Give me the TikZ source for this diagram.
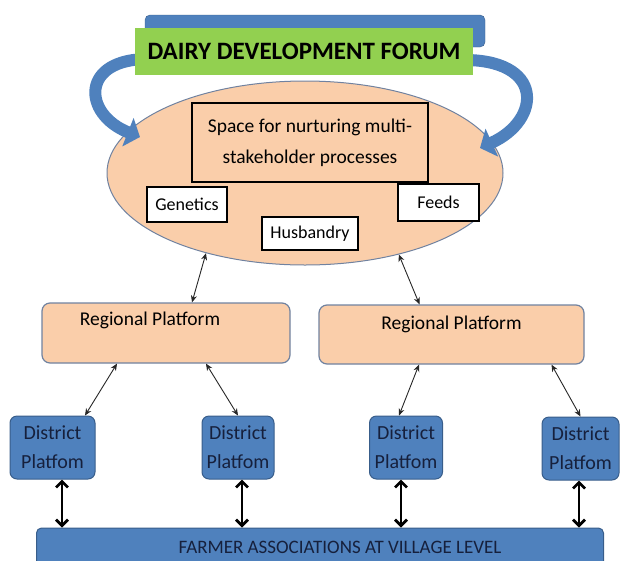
\documentclass[tikz,border=0pt]{standalone}
\usepackage{fontspec}
\setmainfont{Carlito}
\usetikzlibrary{shapes.geometric,arrows.meta}
\definecolor{plainBlue}{RGB}{79,129,189}
\definecolor{edgeBlue}{RGB}{56,93,138}
\definecolor{forumGreen}{RGB}{146,208,80}
\definecolor{peach}{RGB}{250,206,170}
\definecolor{greyEdge}{RGB}{112,130,160}
\definecolor{darkText}{RGB}{22,32,60}
\tikzset{%
  >={Stealth[length=7pt,width=6pt]},
  % Specifications for style of nodes:
          base/.style = {rectangle, draw=black, inner sep=1pt, align=center,
                         font=\fontsize{18}{22}\selectfont},
      forumBar/.style = {base, draw=none, fill=forumGreen,
                         minimum width=338pt, minimum height=47pt,
                         font=\bfseries\fontsize{25}{30}\selectfont},
        topBar/.style = {base, fill=plainBlue, draw=edgeBlue,
                         rounded corners=5pt},
  spaceEllipse/.style = {ellipse, draw=greyEdge, line width=1pt, fill=peach,
                         minimum width=396pt, minimum height=184pt, inner sep=0pt},
    nurtureBox/.style = {base, fill=peach, line width=1.2pt,
                         minimum width=236pt, minimum height=79pt,
                         font=\fontsize{19.5}{31}\selectfont},
      themeBox/.style = {base, fill=white, line width=2.2pt},
   regionalBox/.style = {base, fill=peach, draw=greyEdge, line width=1.2pt,
                         rounded corners=8pt, inner ysep=8pt,
                         font=\fontsize{19.5}{24}\selectfont},
   districtBox/.style = {base, fill=plainBlue, draw=edgeBlue, line width=1pt,
                         rounded corners=7pt, minimum height=63pt,
                         text=darkText, font=\fontsize{20}{29}\selectfont},
     villageBar/.style = {base, fill=plainBlue, draw=edgeBlue, line width=1pt,
                         rounded corners=5pt, minimum width=567pt, minimum height=38pt,
                         text=darkText, font=\fontsize{19}{24}\selectfont},
      thinLink/.style = {<->, line width=0.9pt, draw=black!85},
     thickLink/.style = {{Straight Barb[length=6pt,width=12pt]}-{Straight Barb[length=6pt,width=12pt]},
                         line width=2.8pt},
   curvedArrow/.style = {line width=12pt, draw=plainBlue,
                         -{Triangle[length=13pt,width=30pt]}},
}

\begin{document}
\begin{tikzpicture}[x=1pt,y=-1pt]
  \clip (0,0) rectangle (623,560);
  % Specification of nodes (position, etc.)

\node (space) at (305,173) [spaceEllipse] {};
\node (nurture) at (310,142.5) [nurtureBox] {Space for nurturing multi-\\stakeholder processes};
\node (genetics) at (187,204.5) [themeBox, minimum width=80pt, minimum height=35pt] {Genetics};
\node (feeds) at (438.5,202.5) [themeBox, minimum width=81pt, minimum height=37pt] {Feeds};
\node (husbandry) at (310,233.5) [themeBox, minimum width=96pt, minimum height=33pt] {Husbandry};

\node (topBar) at (315,31) [topBar, minimum width=340pt, minimum height=32pt] {};
\draw[curvedArrow] (150,59) .. controls (80,58) and (82,114) .. (140,137);
\draw[curvedArrow] (460,60) .. controls (545,58) and (542,120) .. (480,148);
\node (forum) at (304,51.5) [forumBar] {DAIRY DEVELOPMENT FORUM};

\node (regionalLeft) at (166,333) [regionalBox, minimum width=248pt,
  text height=14pt, text depth=30pt] {\hspace*{-32pt}Regional Platform};
\node (regionalRight) at (451.5,334.5) [regionalBox, minimum width=265pt,
  text height=16.5pt, text depth=26.5pt] {Regional Platform};

\draw[thinLink] (space.219.5) -- ([xshift=26pt]regionalLeft.north);
\draw[thinLink] (space.319) -- ([xshift=-32pt]regionalRight.north);

\node (districtA) at (52.5,447.5) [districtBox, minimum width=85pt] {District\\Platfom};
\node (districtB) at (238,447.5) [districtBox, minimum width=72pt] {District\\Platfom};
\node (districtC) at (406,447.5) [districtBox, minimum width=73pt] {District\\Platfom};
\node (districtD) at (580.5,448.5) [districtBox, minimum width=77pt] {District\\Platfom};

\draw[thinLink] ([xshift=-49pt]regionalLeft.south) -- ([xshift=32.5pt]districtA.north);
\draw[thinLink] ([xshift=40pt]regionalLeft.south) -- (districtB.north);
\draw[thinLink] ([xshift=-32.5pt]regionalRight.south) -- ([xshift=-7pt]districtC.north);
\draw[thinLink] ([xshift=100pt]regionalRight.south) -- (districtD.north);

\node (farmers) at (320,547) [villageBar] {\hspace*{40pt}FARMER ASSOCIATIONS AT VILLAGE LEVEL};

\draw[thickLink] ([xshift=9.5pt]districtA.south) -- ([xshift=-258pt]farmers.north);
\draw[thickLink] ([xshift=4pt]districtB.south) -- ([xshift=-78pt]farmers.north);
\draw[thickLink] ([xshift=-5pt]districtC.south) -- ([xshift=81pt]farmers.north);
\draw[thickLink] ([xshift=-1.5pt]districtD.south) -- ([xshift=259pt]farmers.north);
\end{tikzpicture}
\end{document}
